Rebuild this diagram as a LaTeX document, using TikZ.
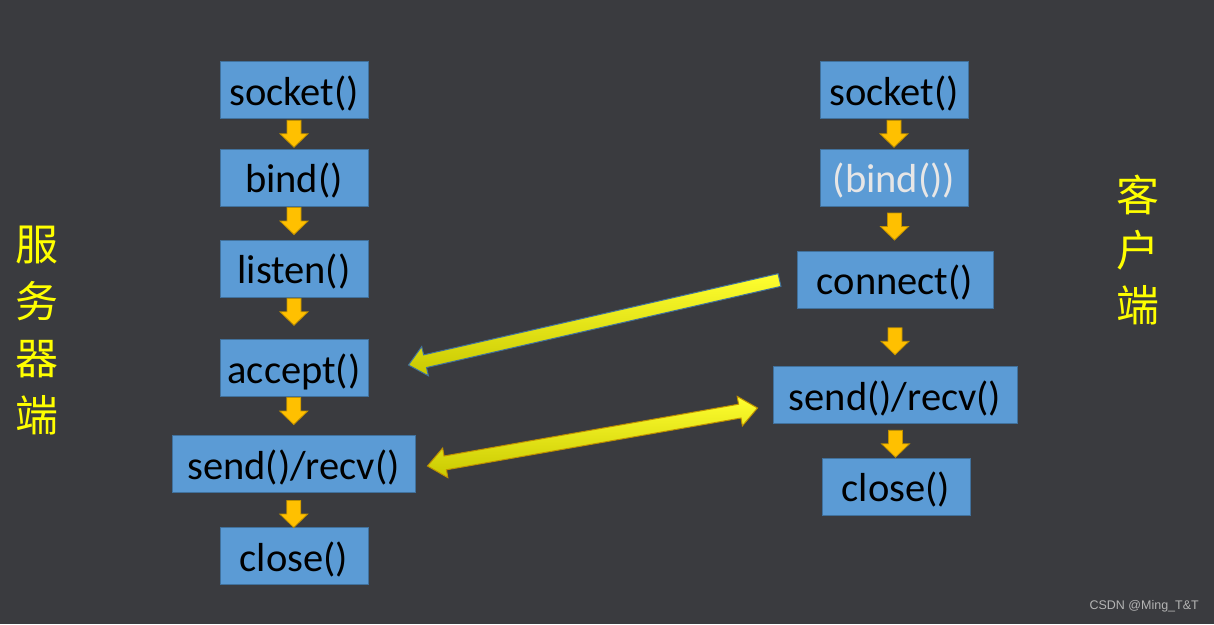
\documentclass[tikz,border=0pt]{standalone}
\usepackage{fontspec}
\setmainfont{Carlito}
\newfontfamily\cjk{Noto Sans CJK SC}
\newfontfamily\wmfont{Liberation Sans}
\usetikzlibrary{calc}
\definecolor{bgc}{HTML}{3A3B3F}
\definecolor{boxfill}{HTML}{5B9BD5}
\definecolor{boxline}{HTML}{41719C}
\definecolor{orangef}{HTML}{FFC000}
\definecolor{oranged}{HTML}{BF9000}
\definecolor{ylw}{HTML}{FFFF00}
\definecolor{ylwtop}{HTML}{FFFF30}
\definecolor{ylwbot}{HTML}{C8C800}
\definecolor{bindtxt}{HTML}{E7E6E6}
\definecolor{wmc}{HTML}{B4B4B4}
\tikzset{
  x=1pt, y=-1pt,
  fn/.style={draw=boxline, fill=boxfill, line width=1pt, inner sep=0pt,
    text height=33pt, text depth=2.7pt,
    minimum width=148pt, minimum height=57pt, font=\fontsize{40.5}{44}\selectfont, text=black},
  darr/.pic={\filldraw[fill=orangef, draw=oranged, line width=0.8pt]
    (-7,-13.5) -- (7,-13.5) -- (7,0) -- (14,0) -- (0,13.5) -- (-14,0) -- (-7,0) -- cycle;},
  bigarr/.style={top color=ylwtop, bottom color=ylwbot, line width=1pt, line join=miter},
  side/.style={text=ylw, align=center}
}
\begin{document}
\begin{tikzpicture}
\useasboundingbox (0,0) rectangle (1214,624);
\fill[bgc] (0,0) rectangle (1214,624);

% server column
\node[fn] (ssock) at (294,90) {socket()};
\node[fn] (sbind) at (294,177.5) {bind()};
\node[fn] (slist) at (294,268.5) {listen()};
\node[fn] (sacc) at (294,368) {accept()};
\node[fn, minimum width=243pt] (ssr) at (293.5,464) {send()/recv()};
\node[fn] (sclose) at (294,556) {close()};

% client column
\node[fn] (csock) at (894,90) {socket()};
\node[fn, text=bindtxt] (cbind) at (894,177.5) {(bind())};
\node[fn, minimum width=196pt] (cconn) at (895,279.5) {connect()};
\node[fn, minimum width=244pt] (csr) at (895,395) {send()/recv()};
\node[fn] (cclose) at (896,486.5) {close()};

% small down arrows
\pic at ($(ssock.south)!.5!(sbind.north)+(0,0)$) {darr};
\pic at ($(sbind.south)!.5!(slist.north)+(0,-2)$) {darr};
\pic at ($(slist.south)!.5!(sacc.north)+(0,-6.5)$) {darr};
\pic at ($(sacc.south)!.5!(ssr.north)+(0,-5)$) {darr};
\pic at ($(ssr.south)!.5!(sclose.north)+(0,4)$) {darr};
\pic at ($(csock.south)!.5!(cbind.north)+(0,0)$) {darr};
\pic at ($(cbind.south)!.5!(cconn.north)+(0,-2)$) {darr};
\pic at ($(cconn.south)!.5!(csr.north)+(0,4)$) {darr};
\pic at ($(csr.south)!.5!(cclose.north)+(0,3)$) {darr};

% big arrow connect -> accept
\coordinate (a1s) at ($(cconn.west)+(-17,0.5)$);
\coordinate (a1e) at ($(sacc.east)+(40,-3)$);
\coordinate (a1c) at ($(a1e)!17pt!(a1s)$);
\path[bigarr, draw=boxline]
  ($(a1s)!6.5pt!90:(a1e)$) -- ($(a1c)!6.5pt!-90:(a1s)$) -- ($(a1c)!15pt!-90:(a1s)$) -- (a1e)
  -- ($(a1c)!15pt!90:(a1s)$) -- ($(a1c)!6.5pt!90:(a1s)$) -- ($(a1s)!6.5pt!-90:(a1e)$) -- cycle;

% big double arrow send/recv <-> send/recv
\coordinate (a2l) at ($(ssr.east)+(12,2)$);
\coordinate (a2r) at ($(csr.west)+(-15,13)$);
\coordinate (a2cl) at ($(a2l)!18pt!(a2r)$);
\coordinate (a2cr) at ($(a2r)!18pt!(a2l)$);
\path[bigarr, draw=oranged]
  (a2l) -- ($(a2cl)!15pt!90:(a2r)$) -- ($(a2cl)!7pt!90:(a2r)$) -- ($(a2cr)!7pt!-90:(a2l)$)
  -- ($(a2cr)!15pt!-90:(a2l)$) -- (a2r) -- ($(a2cr)!15pt!90:(a2l)$) -- ($(a2cr)!7pt!90:(a2l)$)
  -- ($(a2cl)!7pt!-90:(a2r)$) -- ($(a2cl)!15pt!-90:(a2r)$) -- cycle;

% side labels
\node[side, font=\cjk\fontsize{43}{57}\selectfont] (server) at (37,330) {服\\务\\器\\端};
\node[side, font=\cjk\fontsize{43}{55}\selectfont] (client) at (1138,250) {客\\户\\端};

% watermark
\node[text=wmc, font=\wmfont\fontsize{12.5}{14}\selectfont, anchor=east, inner sep=0pt] (wm) at (1199,606) {CSDN @Ming\_T\&T};
\end{tikzpicture}
\end{document}
